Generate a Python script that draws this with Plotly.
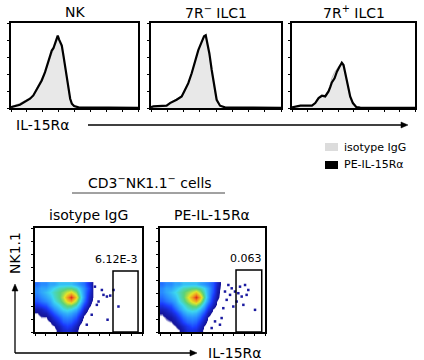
import plotly.graph_objects as go

W, H = 424, 360
FONT = "DejaVu Sans, Liberation Sans, Arial, sans-serif"

# ---------------- data: histograms (x: % of axis, y: % of max) ----------------
nk_x = [0, 0.5, 7, 15, 17.6, 21.6, 24.2, 26.8, 29.5, 32.1, 33.4, 34.7, 36.1, 36.8, 37.9, 38.7, 40, 41.3, 42.6, 43.9, 45.3, 46.6, 47.9, 49.7, 53.2, 100]
nk_pe = [0.5, 1.2, 3.9, 10.9, 14.8, 26.6, 32.4, 42.2, 53.9, 67.6, 70.3, 75.4, 83.2, 85.2, 80.5, 77.3, 73.4, 61.7, 50, 34.4, 20.7, 10.9, 5.1, 2.3, 0.8, 0.3]
nk_iso = [1.0, 1.8, 5.5, 12, 16, 27, 33, 42, 53, 65, 69, 74, 80, 81, 78, 75, 71, 60, 48, 33, 20, 10, 5, 2, 0.8, 0.3]

r7n_x = [0, 1.8, 12, 14.6, 19.7, 23.6, 26.2, 28.7, 31.3, 33.8, 36.4, 39, 40.8, 42.1, 43.3, 44.9, 46.7, 48.5, 50.5, 53.1, 56.9, 100]
r7n_pe = [1.0, 1.9, 2.7, 5.8, 9.7, 13.6, 21.4, 29.2, 40.9, 54.5, 68.1, 77.8, 84.4, 85.6, 77.8, 64.2, 44.7, 25.3, 9.7, 2.7, 0.8, 0.3]
r7n_iso = [1.0, 2.0, 3.0, 6.5, 10.5, 14, 22, 30, 42, 55, 68, 77, 83, 84, 76, 62, 43, 24, 9, 2.5, 0.8, 0.3]

r7p_x = [0, 2.7, 6.8, 16.2, 18.9, 21.6, 24.3, 27, 29.7, 31.1, 32.4, 34.6, 36.5, 38.6, 40.5, 41.9, 43.2, 44.6, 45.9, 47.3, 49.5, 52.2, 55.4, 100]
r7p_pe = [0.8, 1.2, 2.7, 2.7, 5.8, 11.7, 14.4, 13.6, 19.5, 24.5, 30, 35, 42.8, 48.6, 53.3, 50.6, 42.8, 33.1, 23.3, 13.6, 5.8, 1.2, 0.4, 0.3]
r7p_iso = [0.8, 1.5, 3.0, 3.0, 6.0, 12, 15, 15, 21, 27, 35, 42, 46, 50, 51, 48, 41, 32, 22, 12, 5, 1.2, 0.4, 0.3]

# ---------------- data: density plots (grid of relative event density) ----------------
dens_x = [2, 6, 10, 14, 18, 22, 26, 30, 34, 38, 42, 46, 50, 54, 58]
dens_y = [46, 42, 38, 34, 30, 26, 22, 18, 14, 10, 6, 2]
dens_iso = [
    [0.35, 0.40, 0.40, 0.45, 0.45, 0.50, 0.50, 0.50, 0.50, 0.45, 0.40, 0.35, 0.20, 0.05, 0],
    [0.40, 0.45, 0.45, 0.50, 0.55, 0.60, 0.62, 0.65, 0.65, 0.60, 0.50, 0.40, 0.25, 0.05, 0],
    [0.40, 0.45, 0.50, 0.55, 0.60, 0.65, 0.70, 0.76, 0.80, 0.70, 0.55, 0.40, 0.20, 0.05, 0],
    [0.35, 0.40, 0.45, 0.50, 0.58, 0.65, 0.75, 0.88, 1.00, 0.82, 0.60, 0.40, 0.15, 0.05, 0],
    [0.30, 0.35, 0.40, 0.45, 0.55, 0.62, 0.70, 0.80, 0.86, 0.72, 0.55, 0.35, 0.12, 0.03, 0],
    [0.20, 0.25, 0.30, 0.40, 0.48, 0.55, 0.62, 0.68, 0.68, 0.60, 0.45, 0.25, 0.08, 0, 0],
    [0.10, 0.12, 0.20, 0.30, 0.40, 0.48, 0.55, 0.58, 0.55, 0.48, 0.35, 0.15, 0.03, 0, 0],
    [0.05, 0.08, 0.10, 0.20, 0.30, 0.40, 0.45, 0.48, 0.45, 0.38, 0.25, 0.08, 0, 0, 0],
    [0.03, 0.05, 0.05, 0.10, 0.20, 0.30, 0.38, 0.40, 0.38, 0.30, 0.15, 0.03, 0, 0, 0],
    [0.02, 0.03, 0.03, 0.05, 0.10, 0.20, 0.30, 0.32, 0.30, 0.20, 0.08, 0, 0, 0, 0],
    [0, 0.02, 0.02, 0.03, 0.05, 0.12, 0.20, 0.25, 0.22, 0.12, 0.03, 0, 0, 0, 0],
    [0, 0, 0, 0.02, 0.03, 0.08, 0.15, 0.18, 0.15, 0.08, 0.02, 0, 0, 0, 0],
]
dens_pe = [
    [0.35, 0.40, 0.40, 0.45, 0.45, 0.50, 0.50, 0.50, 0.50, 0.45, 0.42, 0.38, 0.30, 0.15, 0.03],
    [0.40, 0.45, 0.45, 0.50, 0.55, 0.60, 0.62, 0.65, 0.65, 0.62, 0.55, 0.45, 0.30, 0.12, 0.03],
    [0.40, 0.45, 0.50, 0.55, 0.60, 0.65, 0.70, 0.76, 0.82, 0.72, 0.60, 0.45, 0.28, 0.10, 0.02],
    [0.35, 0.40, 0.45, 0.50, 0.58, 0.65, 0.75, 0.88, 1.00, 0.85, 0.65, 0.45, 0.22, 0.08, 0.02],
    [0.30, 0.35, 0.40, 0.45, 0.55, 0.62, 0.70, 0.80, 0.86, 0.75, 0.58, 0.40, 0.18, 0.05, 0],
    [0.20, 0.25, 0.30, 0.40, 0.48, 0.55, 0.62, 0.68, 0.70, 0.62, 0.48, 0.30, 0.12, 0.03, 0],
    [0.12, 0.15, 0.22, 0.32, 0.42, 0.50, 0.56, 0.60, 0.58, 0.50, 0.38, 0.20, 0.05, 0, 0],
    [0.06, 0.10, 0.14, 0.22, 0.32, 0.42, 0.48, 0.50, 0.48, 0.40, 0.28, 0.10, 0.02, 0, 0],
    [0.04, 0.06, 0.08, 0.14, 0.24, 0.34, 0.40, 0.42, 0.40, 0.32, 0.18, 0.05, 0, 0, 0],
    [0.02, 0.04, 0.05, 0.08, 0.15, 0.25, 0.32, 0.35, 0.32, 0.22, 0.10, 0.02, 0, 0, 0],
    [0, 0.02, 0.03, 0.05, 0.08, 0.15, 0.22, 0.28, 0.25, 0.15, 0.05, 0, 0, 0, 0],
    [0, 0, 0.02, 0.03, 0.05, 0.10, 0.18, 0.20, 0.18, 0.10, 0.03, 0, 0, 0, 0],
]
# sparse individual events outside the dense cloud
iso_dots_x = [62.5, 64, 67.2, 70.3, 73.4, 78, 67.8, 57.8, 59.4, 56, 53, 48.4]
iso_dots_y = [40.4, 35.7, 34.1, 35, 40.4, 24.5, 11.8, 26.1, 29.3, 43.6, 16.6, 7]
pe_dots_x = [76.2, 81, 84.1, 82.5, 77.8, 73, 71.4, 68.3, 66.7, 63.5, 60.3, 58.7, 90.5, 79.4, 74.6, 69.8, 61.9, 65.1, 57.1, 52.4, 49.2]
pe_dots_y = [43.6, 45.2, 40.4, 35.7, 34.1, 29.3, 38.9, 42, 35.7, 30.9, 22.9, 13.4, 21.3, 26.1, 37.3, 24.5, 38.9, 45.2, 7, 10.2, 3.8]

gate_iso = [72.9, 96.3, 58.7]  # x0, x1, top
gate_pe = [72.4, 96.9, 59.6]
gate_labels = ["6.12E-3", "0.063"]
gate_label_x = [75.4, 82.0]

hist_titles = ["NK", "7R<sup>−</sup> ILC1", "7R<sup>+</sup> ILC1"]
dens_titles = ["isotype IgG", "PE-IL-15Rα"]

# ---------------- layout helpers ----------------
def pxx(x):
    return x / W

def pyy(y):
    return 1 - y / H

fig = go.Figure()

hist_sets = [(nk_x, nk_iso, nk_pe), (r7n_x, r7n_iso, r7n_pe), (r7p_x, r7p_iso, r7p_pe)]
for i, (hx, hiso, hpe) in enumerate(hist_sets):
    xa = "x" if i == 0 else f"x{i+1}"
    ya = "y" if i == 0 else f"y{i+1}"
    fig.add_trace(go.Scatter(x=hx, y=hiso, mode="lines", fill="tozeroy",
                             fillcolor="#e8e8e8", line=dict(color="#bdbdbd", width=1),
                             xaxis=xa, yaxis=ya, hoverinfo="skip"))
    fig.add_trace(go.Scatter(x=hx, y=hpe, mode="lines",
                             line=dict(color="black", width=2.2),
                             xaxis=xa, yaxis=ya, hoverinfo="skip"))

colorscale = [
    [0.0, "#ffffff"], [0.045, "#ffffff"], [0.06, "#14149a"], [0.25, "#1a3cff"],
    [0.42, "#2a96ff"], [0.55, "#3ed8f0"], [0.66, "#5ad27a"], [0.78, "#e6e628"],
    [0.9, "#f08a20"], [1.0, "#e02a1c"],
]
for j, (z, dx, dy) in enumerate([(dens_iso, iso_dots_x, iso_dots_y), (dens_pe, pe_dots_x, pe_dots_y)]):
    xa, ya = f"x{4+j}", f"y{4+j}"
    fig.add_trace(go.Heatmap(x=dens_x, y=dens_y, z=z, zmin=0, zmax=1, zsmooth="best",
                             colorscale=colorscale, showscale=False, xaxis=xa, yaxis=ya,
                             hoverinfo="skip"))
    fig.add_trace(go.Scatter(x=dx, y=dy, mode="markers",
                             marker=dict(symbol="square", size=2.5, color="#1a1aa0"),
                             xaxis=xa, yaxis=ya, hoverinfo="skip"))

# axes domains (pixels -> paper)
hist_dom_x = [(11, 138), (151, 281), (292, 415)]
hist_dom_y = (23, 108)
dens_dom_x = [(35, 142), (160, 265)]
dens_dom_y = (228, 332)

layout = dict(
    width=W, height=H, margin=dict(l=0, r=0, t=0, b=0),
    paper_bgcolor="white", plot_bgcolor="white", showlegend=False,
    font=dict(family=FONT, color="black"),
)
axis_common = dict(showline=True, linecolor="black", mirror=True, showgrid=False,
                   zeroline=False, showticklabels=False, ticks="outside",
                   ticklen=2, tickwidth=1, tickcolor="black")
for i, (a, b) in enumerate(hist_dom_x):
    k = "" if i == 0 else str(i + 1)
    layout["xaxis" + k] = dict(axis_common, domain=[pxx(a), pxx(b)], range=[0, 100], dtick=12.5,
                               linewidth=2, anchor="y" + k)
    layout["yaxis" + k] = dict(axis_common, domain=[pyy(hist_dom_y[1]), pyy(hist_dom_y[0])],
                               range=[0, 100], dtick=20, linewidth=2, anchor="x" + k)
for j, (a, b) in enumerate(dens_dom_x):
    k = str(4 + j)
    layout["xaxis" + k] = dict(axis_common, domain=[pxx(a), pxx(b)], range=[0, 100], dtick=10,
                               linewidth=1.5, anchor="y" + k)
    layout["yaxis" + k] = dict(axis_common, domain=[pyy(dens_dom_y[1]), pyy(dens_dom_y[0])],
                               range=[0, 100], dtick=12.5, linewidth=1.5, anchor="x" + k)
fig.update_layout(**layout)

ann = []
shapes = []


def text(x, y, t, size, xanchor="center", **kw):
    d = dict(x=pxx(x), y=pyy(y), xref="paper", yref="paper", text=t, showarrow=False,
             xanchor=xanchor, yanchor="middle", font=dict(size=size))
    d.update(kw)
    ann.append(d)


def arrow(x_tip, y_tip, x_tail, y_tail, head=7, half=3):
    # shaft
    if y_tip == y_tail:  # horizontal, pointing right
        shapes.append(dict(type="line", xref="paper", yref="paper",
                           x0=pxx(x_tail), x1=pxx(x_tip - head + 1), y0=pyy(y_tip), y1=pyy(y_tip),
                           line=dict(color="black", width=1.3)))
        path = "M {} {} L {} {} L {} {} Z".format(
            pxx(x_tip), pyy(y_tip), pxx(x_tip - head), pyy(y_tip - half),
            pxx(x_tip - head), pyy(y_tip + half))
    else:  # vertical, pointing up
        shapes.append(dict(type="line", xref="paper", yref="paper",
                           x0=pxx(x_tip), x1=pxx(x_tip), y0=pyy(y_tail), y1=pyy(y_tip + head - 1),
                           line=dict(color="black", width=1.3)))
        path = "M {} {} L {} {} L {} {} Z".format(
            pxx(x_tip), pyy(y_tip), pxx(x_tip - half), pyy(y_tip + head),
            pxx(x_tip + half), pyy(y_tip + head))
    shapes.append(dict(type="path", xref="paper", yref="paper", path=path,
                       fillcolor="black", line=dict(color="black", width=0.5)))


# histogram titles
for i, (a, b) in enumerate(hist_dom_x):
    text((a + b) / 2, 12, hist_titles[i], 14)
# IL-15Ra label and arrow (top)
text(14, 125, "IL-15Rα", 14, xanchor="left")
arrow(408, 125, 88, 125)
# legend
shapes.append(dict(type="rect", xref="paper", yref="paper", x0=pxx(325), x1=pxx(338),
                   y0=pyy(151), y1=pyy(143), fillcolor="#dcdcdc", line=dict(width=0)))
shapes.append(dict(type="rect", xref="paper", yref="paper", x0=pxx(325), x1=pxx(338),
                   y0=pyy(169), y1=pyy(161), fillcolor="black", line=dict(width=0)))
text(342, 147, "isotype IgG", 11, xanchor="left")
text(342, 165, "PE-IL-15Rα", 11, xanchor="left")
# CD3-NK1.1- cells header
text(150, 182, "CD3<sup>−</sup>NK1.1<sup>−</sup> cells", 14)
shapes.append(dict(type="line", xref="paper", yref="paper", x0=pxx(72), x1=pxx(225),
                   y0=pyy(193), y1=pyy(193), line=dict(color="#444444", width=1)))
# density titles
for j, (a, b) in enumerate(dens_dom_x):
    text((a + b) / 2, 215, dens_titles[j], 14)
# gates
for j, g in enumerate([gate_iso, gate_pe]):
    k = str(4 + j)
    shapes.append(dict(type="rect", xref="x" + k, yref="y" + k, x0=g[0], x1=g[1], y0=0, y1=g[2],
                       line=dict(color="black", width=1.5), fillcolor="rgba(0,0,0,0)"))
    ann.append(dict(x=gate_label_x[j], y=g[2] + 3, xref="x" + k, yref="y" + k,
                    xanchor="center", yanchor="bottom",
                    text=gate_labels[j], showarrow=False, font=dict(size=11)))
# NK1.1 label and arrows
text(15, 253, "NK1.1", 14, textangle=-90)
arrow(15, 284, 15, 353)
arrow(197, 353, 15, 353)
text(206, 353, "IL-15Rα", 14, xanchor="left")

fig.update_layout(annotations=ann, shapes=shapes)
fig.write_html("out.html", config={"displayModeBar": False},
               post_script="document.body.style.margin='0';")
